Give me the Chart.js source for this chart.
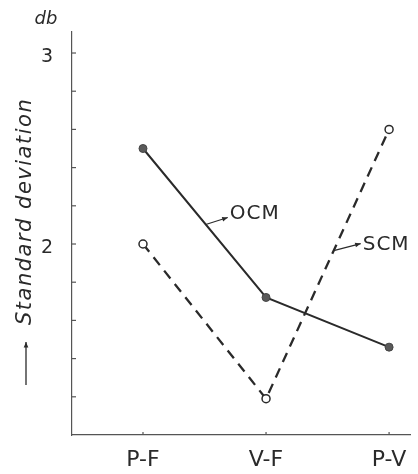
<!DOCTYPE html>
<html>
<head>
<meta charset="utf-8">
<script src="https://cdn.jsdelivr.net/npm/chart.js@4/dist/chart.umd.min.js"></script>
<style>
  html, body { margin: 0; padding: 0; background: #fff; }
  #c { display: block; }
</style>
</head>
<body>
<canvas id="c" width="418" height="474"></canvas>
<script>
// Comparison pairs along the x axis
const categories = ['P-F', 'V-F', 'P-V'];
// Standard deviation in db for each method
const ocmValues = [2.50, 1.72, 1.46];
const scmValues = [2.00, 1.19, 2.60];
// Y axis: minor tick positions and which of them carry a label
const yTicks = [1.2, 1.4, 1.6, 1.8, 2.0, 2.2, 2.4, 2.6, 2.8, 3.0];
const yTickLabels = { '2': '2', '3': '3' };

const INK = '#2a2a2a';
const FONT = '"DejaVu Sans", "Liberation Sans", sans-serif';

const toPoints = vals => vals.map((v, i) => ({ x: i, y: v }));

// Point on a series between two categories, t in [0,1]
function along(chart, vals, i, t) {
  const xs = chart.scales.x, ys = chart.scales.y;
  const xv = i + t;
  const yv = vals[i] + (vals[i + 1] - vals[i]) * t;
  return { x: xs.getPixelForValue(xv), y: ys.getPixelForValue(yv) };
}

function arrow(ctx, x0, y0, x1, y1) {
  ctx.beginPath();
  ctx.moveTo(x0, y0);
  ctx.lineTo(x1, y1);
  ctx.stroke();
  const a = Math.atan2(y1 - y0, x1 - x0);
  const L = 6, W = 0.4;
  ctx.beginPath();
  ctx.moveTo(x1, y1);
  ctx.lineTo(x1 - L * Math.cos(a - W), y1 - L * Math.sin(a - W));
  ctx.lineTo(x1 - L * Math.cos(a + W), y1 - L * Math.sin(a + W));
  ctx.closePath();
  ctx.fill();
}

const decorations = {
  id: 'decorations',
  afterDraw(chart) {
    const ctx = chart.ctx;
    const xs = chart.scales.x, ys = chart.scales.y;
    const area = chart.chartArea;
    ctx.save();
    ctx.strokeStyle = '#555';
    ctx.fillStyle = INK;
    ctx.lineWidth = 1.2;

    // inward tick marks on the y axis
    yTicks.forEach(v => {
      const y = ys.getPixelForValue(v);
      ctx.beginPath();
      ctx.moveTo(area.left, y);
      ctx.lineTo(area.left + 4, y);
      ctx.stroke();
    });
    // inward tick marks on the x axis
    categories.forEach((c, i) => {
      const x = xs.getPixelForValue(i);
      ctx.beginPath();
      ctx.moveTo(x, area.bottom);
      ctx.lineTo(x, area.bottom - 3);
      ctx.stroke();
    });

    // unit above the y axis
    ctx.font = 'italic 18px ' + FONT;
    ctx.textAlign = 'center';
    ctx.textBaseline = 'middle';
    ctx.fillText('db', 46, 19);

    // rotated axis title with an upward arrow below it
    ctx.save();
    ctx.translate(26, 235);
    ctx.rotate(-Math.PI / 2);
    ctx.font = 'italic 21px ' + FONT;
    ctx.letterSpacing = '1.5px';
    ctx.textAlign = 'left';
    ctx.textBaseline = 'middle';
    ctx.fillText('Standard deviation', -90, 0);
    ctx.letterSpacing = '0px';
    ctx.lineWidth = 1.3;
    ctx.strokeStyle = INK;
    arrow(ctx, -150, 0, -107, 0);
    ctx.restore();

    // series labels with pointer arrows
    ctx.strokeStyle = INK;
    ctx.lineWidth = 1.1;
    ctx.font = '20px ' + FONT;
    ctx.letterSpacing = '1px';
    ctx.textAlign = 'left';
    ctx.textBaseline = 'middle';

    const p1 = along(chart, ocmValues, 0, 0.51);
    arrow(ctx, p1.x, p1.y, p1.x + 22, p1.y - 7);
    ctx.fillText('OCM', p1.x + 24, p1.y - 11);

    const p2 = along(chart, scmValues, 1, 0.55);
    arrow(ctx, p2.x, p2.y, p2.x + 27, p2.y - 7);
    ctx.fillText('SCM', p2.x + 29, p2.y - 6);

    ctx.restore();
  }
};

new Chart(document.getElementById('c'), {
  type: 'line',
  data: {
    datasets: [
      {
        label: 'OCM',
        data: toPoints(ocmValues),
        borderColor: INK,
        borderWidth: 2,
        pointRadius: 4,
        pointBackgroundColor: '#5a5a5a',
        pointBorderColor: '#444',
        pointBorderWidth: 1,
        tension: 0
      },
      {
        label: 'SCM',
        data: toPoints(scmValues),
        borderColor: INK,
        borderWidth: 2.3,
        borderDash: [10, 7],
        pointRadius: 4,
        pointBackgroundColor: '#fff',
        pointBorderColor: INK,
        pointBorderWidth: 1.5,
        tension: 0
      }
    ]
  },
  options: {
    responsive: false,
    animation: false,
    events: [],
    layout: { padding: { top: 32, right: 8, left: 0, bottom: 0 } },
    plugins: {
      legend: { display: false },
      tooltip: { enabled: false },
      title: { display: false }
    },
    scales: {
      x: {
        type: 'linear',
        min: -0.577,
        max: 2.17,
        afterBuildTicks: s => { s.ticks = categories.map((c, i) => ({ value: i })); },
        afterFit: s => { s.height = 39; },
        grid: { display: false },
        border: { display: true, color: '#555', width: 1.2 },
        ticks: {
          callback: v => categories[v] ?? '',
          color: INK,
          font: { family: FONT, size: 22 },
          padding: 4,
          maxRotation: 0,
          autoSkip: false
        }
      },
      y: {
        type: 'linear',
        min: 1,
        max: 3.11,
        afterBuildTicks: s => { s.ticks = yTicks.map(v => ({ value: v })); },
        afterFit: s => { s.width = 72; },
        grid: { display: false },
        border: { display: true, color: '#555', width: 1.2 },
        ticks: {
          callback: v => yTickLabels[String(Math.round(v * 10) / 10)] ?? '',
          color: INK,
          font: { family: FONT, size: 19 },
          padding: 11,
          labelOffset: 4,
          autoSkip: false
        }
      }
    }
  },
  plugins: [decorations]
});
</script>
</body>
</html>
